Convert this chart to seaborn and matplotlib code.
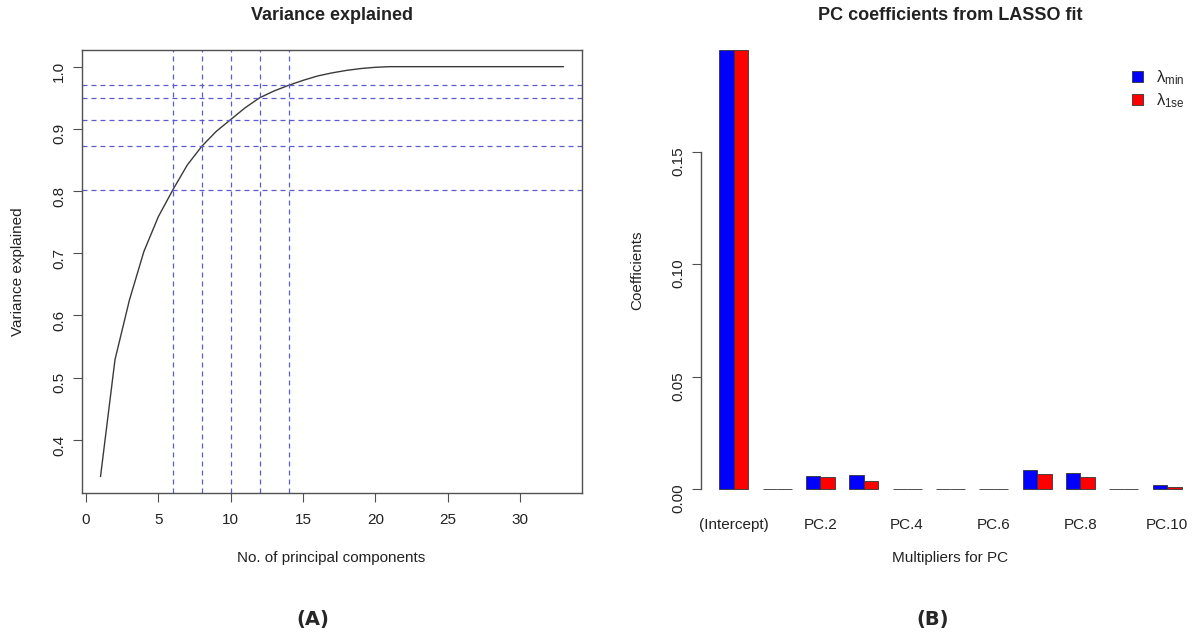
import numpy as np
import pandas as pd
import matplotlib
matplotlib.use("Agg")
import matplotlib.pyplot as plt
import seaborn as sns
from matplotlib.patches import Patch

# --- Panel A: cumulative variance explained by the principal components ---
n_pcs = list(range(1, 34))
var_explained = [0.341, 0.529, 0.625, 0.703, 0.759, 0.802, 0.842, 0.872, 0.896, 0.915,
                 0.934, 0.950, 0.961, 0.970, 0.978, 0.985, 0.990, 0.994, 0.997, 0.999,
                 1.0, 1.0, 1.0, 1.0, 1.0, 1.0, 1.0, 1.0, 1.0, 1.0, 1.0, 1.0, 1.0]
cutoff_pcs = [6, 8, 10, 12, 14]

# --- Panel B: LASSO coefficients at lambda.min and lambda.1se ---
terms = ["(Intercept)", "PC.1", "PC.2", "PC.3", "PC.4", "PC.5",
         "PC.6", "PC.7", "PC.8", "PC.9", "PC.10"]
coef_min = [0.1955, 0.0, 0.0058, 0.0061, 0.0, 0.0, 0.0, 0.0085, 0.0073, 0.0, 0.0018]
coef_1se = [0.1955, 0.0, 0.0053, 0.0037, 0.0, 0.0, 0.0, 0.0065, 0.0055, 0.0, 0.0007]
shown_terms = ["(Intercept)", "PC.2", "PC.4", "PC.6", "PC.8", "PC.10"]

sns.set_style("ticks")
plt.rcParams["font.family"] = ["Liberation Sans", "DejaVu Sans"]

W, H = 1192, 634
fig = plt.figure(figsize=(W / 100, H / 100), dpi=100)


def rect(x0, y0, x1, y1):
    # pixel box (top-left origin) -> figure fraction rect
    return [x0 / W, 1 - y1 / H, (x1 - x0) / W, (y1 - y0) / H]


def px(x, y):
    return x / W, 1 - y / H


text_col = "#222222"
axis_col = "#505050"
guide_col = "#5c5ccc"
dash = (0, (4, 3.2))

# =====================================================================
# Left: variance explained
# =====================================================================
ax1 = fig.add_axes(rect(82, 50, 582, 493))
sns.lineplot(x=n_pcs, y=var_explained, color="#3a3a3a", linewidth=1.0, ax=ax1)
for k in cutoff_pcs:
    ax1.axvline(k, color=guide_col, linestyle=dash, linewidth=0.9)
    ax1.axhline(var_explained[k - 1], color=guide_col, linestyle=dash, linewidth=0.9)

ax1.set_xlim(-0.28, 34.28)
ax1.set_ylim(0.3146, 1.0268)
ax1.set_xticks(range(0, 31, 5))
ax1.set_yticks([0.4, 0.5, 0.6, 0.7, 0.8, 0.9, 1.0])
ax1.set_yticklabels(["0.4", "0.5", "0.6", "0.7", "0.8", "0.9", "1.0"])
ax1.tick_params(direction="out", length=6.5, width=0.8, color=axis_col,
                labelsize=11, labelcolor=text_col)
ax1.tick_params(axis="x", pad=8)
ax1.tick_params(axis="y", labelrotation=90, pad=5)
for sp in ax1.spines.values():
    sp.set_visible(True)
    sp.set_color(axis_col)
    sp.set_linewidth(1.0)

fig.text(*px(332, 15), "Variance explained", ha="center", va="center",
         fontsize=13, fontweight="bold", color=text_col)
fig.text(*px(331, 558), "No. of principal components", ha="center", va="center",
         fontsize=11, color=text_col)
fig.text(*px(18, 272), "Variance explained", ha="center", va="center",
         rotation=90, fontsize=11, color=text_col)

# =====================================================================
# Right: LASSO coefficients
# =====================================================================
coef_df = pd.DataFrame({
    "term": terms * 2,
    "coef": coef_min + coef_1se,
    "fit": ["min"] * len(terms) + ["1se"] * len(terms),
})

# plot region runs past the right edge of the picture, as in the original
ax2 = fig.add_axes(rect(701, 32, 1200, 506.5))
sns.barplot(data=coef_df, x="term", y="coef", hue="fit", order=terms,
            hue_order=["min", "1se"], palette=["#0000ff", "#ff0000"], saturation=1,
            width=2 / 3, edgecolor="#333333", linewidth=0.6, legend=False, ax=ax2)

ax2.set_xlim(-0.757, 10.76)
ax2.set_ylim(-0.0078, 0.2034)
ax2.set_xlabel("")
ax2.set_ylabel("")
ax2.set_xticks([terms.index(t) for t in shown_terms])
ax2.set_xticklabels(shown_terms)
ax2.set_yticks([0.0, 0.05, 0.10, 0.15])
ax2.set_yticklabels(["0.00", "0.05", "0.10", "0.15"])
ax2.tick_params(axis="x", length=0, pad=8, labelsize=11, labelcolor=text_col)
ax2.tick_params(axis="y", direction="out", length=6.5, width=0.8, color=axis_col,
                labelsize=11, labelcolor=text_col, labelrotation=90, pad=5)
for side in ["top", "right", "bottom"]:
    ax2.spines[side].set_visible(False)
ax2.spines["left"].set_bounds(0, 0.15)
ax2.spines["left"].set_color(axis_col)
ax2.spines["left"].set_linewidth(1.0)

fig.text(*px(950, 15), "PC coefficients from LASSO fit", ha="center", va="center",
         fontsize=13, fontweight="bold", color=text_col)
fig.text(*px(950, 558), "Multipliers for PC", ha="center", va="center",
         fontsize=11, color=text_col)
fig.text(*px(637, 270), "Coefficients", ha="center", va="center",
         rotation=90, fontsize=11, color=text_col)

legend_handles = [Patch(facecolor="#0000ff", edgecolor="#333333", linewidth=0.6),
                  Patch(facecolor="#ff0000", edgecolor="#333333", linewidth=0.6)]
fig.legend(legend_handles, [r"$\mathregular{\lambda_{min}}$", r"$\mathregular{\lambda_{1se}}$"],
           loc="upper left", bbox_to_anchor=px(1132, 68), frameon=False,
           handlelength=0.65, handleheight=0.65, handletextpad=0.8, labelspacing=0.3,
           borderpad=0, borderaxespad=0, fontsize=12)

# panel tags
fig.text(*px(313, 619), "(A)", ha="center", va="center", fontsize=14,
         fontweight="bold", family="DejaVu Sans")
fig.text(*px(933, 619), "(B)", ha="center", va="center", fontsize=14,
         fontweight="bold", family="DejaVu Sans")

fig.savefig("out.png", dpi=100)
